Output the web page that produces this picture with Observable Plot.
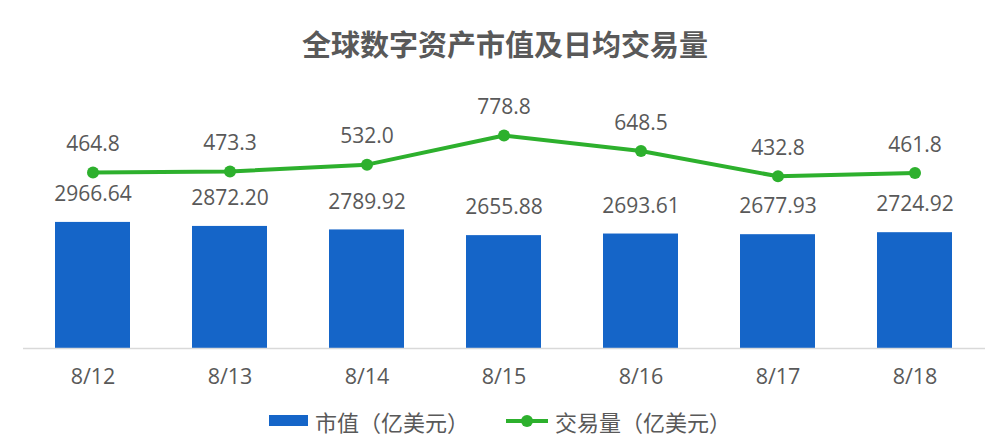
<!DOCTYPE html>
<html><head><meta charset="utf-8">
<script src="https://cdn.jsdelivr.net/npm/d3@7"></script>
<script src="https://cdn.jsdelivr.net/npm/@observablehq/plot@0.6"></script>
<style>
body{margin:0;background:#fff;width:1002px;overflow:hidden;font-family:"Open Sans","Noto Sans CJK SC",sans-serif;}
#title{height:86px;line-height:86px;text-align:center;font-family:"Noto Sans CJK SC",sans-serif;font-weight:bold;font-size:29px;color:#595959;padding-left:8px;box-sizing:border-box;}
#legend{height:50px;display:flex;align-items:center;font-family:"Noto Sans CJK SC",sans-serif;font-size:22px;color:#595959;}
.item{display:flex;align-items:center;position:absolute;white-space:nowrap;}
svg{display:block}
</style></head><body>
<div id="title">全球数字资产市值及日均交易量</div>
<div id="chart"></div>
<div id="legend" style="position:relative">
  <div class="item" style="left:269px"><svg width="39" height="12"><rect x="0" y="0" width="39" height="11" fill="#1565c8"/></svg><span style="margin-left:7px">市值（亿美元）</span></div>
  <div class="item" style="left:506px"><svg width="42" height="14"><line x1="0" y1="7" x2="42" y2="7" stroke="#2db02d" stroke-width="4"/><circle cx="21" cy="7" r="6" fill="#2db02d"/></svg><span style="margin-left:7px">交易量（亿美元）</span></div>
</div>
<script>
const dates = ["8/12","8/13","8/14","8/15","8/16","8/17","8/18"];
const marketCap = [2966.64, 2872.20, 2789.92, 2655.88, 2693.61, 2677.93, 2724.92];
const volume = [464.8, 473.3, 532.0, 778.8, 648.5, 432.8, 461.8];

// secondary axis (volume) mapped onto the primary (market cap) axis
const sec = d3.scaleLinear([-1029, 1136], [0, 6000]);

const bars = dates.map((d, i) => ({date: d, value: marketCap[i]}));
const line = dates.map((d, i) => ({date: d, value: volume[i], y: sec(volume[i])}));

const textColor = "#595959";
const chart = Plot.plot({
  width: 1002,
  height: 310,
  marginLeft: 23,
  marginRight: 17,
  marginTop: 7,
  marginBottom: 48,
  style: {fontFamily: "'Open Sans', sans-serif", background: "#fff"},
  x: {domain: dates, paddingInner: 0.45, paddingOuter: 0.225, label: null},
  y: {domain: [0, 6000], axis: null},
  marks: [
    Plot.barY(bars, {x: "date", y: "value", fill: "#1565c8"}),
    Plot.ruleY([0], {stroke: "#d9d9d9", strokeWidth: 1.5}),
    Plot.text(bars, {x: "date", y: "value", text: d => d.value.toFixed(2), dy: -28, fontSize: 21, fill: textColor}),
    Plot.line(line, {x: "date", y: "y", stroke: "#2db02d", strokeWidth: 4}),
    Plot.dot(line, {x: "date", y: "y", r: 6, fill: "#2db02d"}),
    Plot.text(line, {x: "date", y: "y", text: d => d.value.toFixed(1), dy: -28, fontSize: 21, fill: textColor}),
    Plot.axisX({tickSize: 0, tickPadding: 20, fontSize: 21.5, color: textColor, label: null})
  ]
});
document.getElementById("chart").appendChild(chart);
</script>
</body></html>
